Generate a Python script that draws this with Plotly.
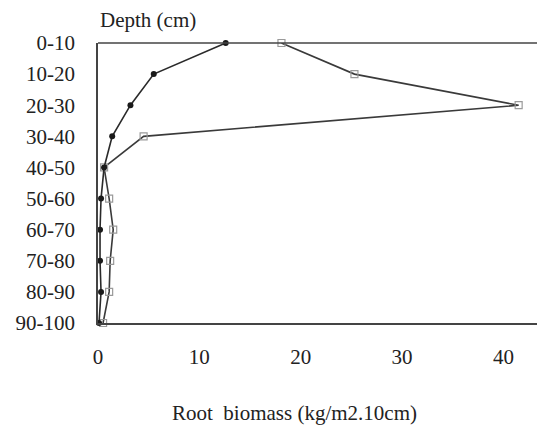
import plotly.graph_objects as go

depths = ["0-10", "10-20", "20-30", "30-40", "40-50", "50-60", "60-70", "70-80", "80-90", "90-100"]
filled_series = [12.6, 5.5, 3.2, 1.4, 0.6, 0.3, 0.2, 0.2, 0.3, 0.1]
open_series = [18.1, 25.3, 41.5, 4.5, 0.6, 1.1, 1.5, 1.2, 1.1, 0.5]
x_ticks = [0, 10, 20, 30, 40]

font_family = "Liberation Serif"

fig = go.Figure()
fig.add_trace(go.Scatter(
    x=open_series, y=depths, mode="lines+markers",
    line=dict(color="#3a3a3a", width=1.6),
    marker=dict(symbol="square-open", size=7, color="#9a9a9a", line=dict(width=1.2)),
    showlegend=False, cliponaxis=False,
))
fig.add_trace(go.Scatter(
    x=filled_series, y=depths, mode="lines+markers",
    line=dict(color="#2a2a2a", width=1.6),
    marker=dict(symbol="circle", size=6, color="#1a1a1a"),
    showlegend=False, cliponaxis=False,
))

fig.update_layout(
    width=537, height=417,
    margin=dict(l=90, r=0, t=35, b=102),
    paper_bgcolor="white", plot_bgcolor="white",
    font=dict(family=font_family, size=21, color="#222222"),
    xaxis=dict(range=[0, 44.1], tickvals=x_ticks, showgrid=False, zeroline=False,
               showline=True, linecolor="#444444", linewidth=1.5, mirror=False,
               ticks="", ticklen=0, ticklabelstandoff=14),
    yaxis=dict(type="category", categoryorder="array", categoryarray=depths,
               range=[9, 0], showgrid=False, zeroline=False,
               showline=True, linecolor="#444444", linewidth=1.5,
               ticks="", ticklabelstandoff=17),
    shapes=[dict(type="line", xref="paper", yref="paper", x0=0, x1=1, y0=1, y1=1,
                 line=dict(color="#444444", width=1.5))],
    annotations=[
        dict(text="Depth (cm)", x=0.0, y=1.0, xref="paper", yref="paper",
             xanchor="left", yanchor="bottom", yshift=9, showarrow=False,
             font=dict(size=21)),
        dict(text="Root  biomass (kg/m2.10cm)", x=0.44, y=0.0, xref="paper", yref="paper",
             xanchor="center", yanchor="top", yshift=-76, showarrow=False,
             font=dict(size=21)),
    ],
)

fig.write_html("out.html")
